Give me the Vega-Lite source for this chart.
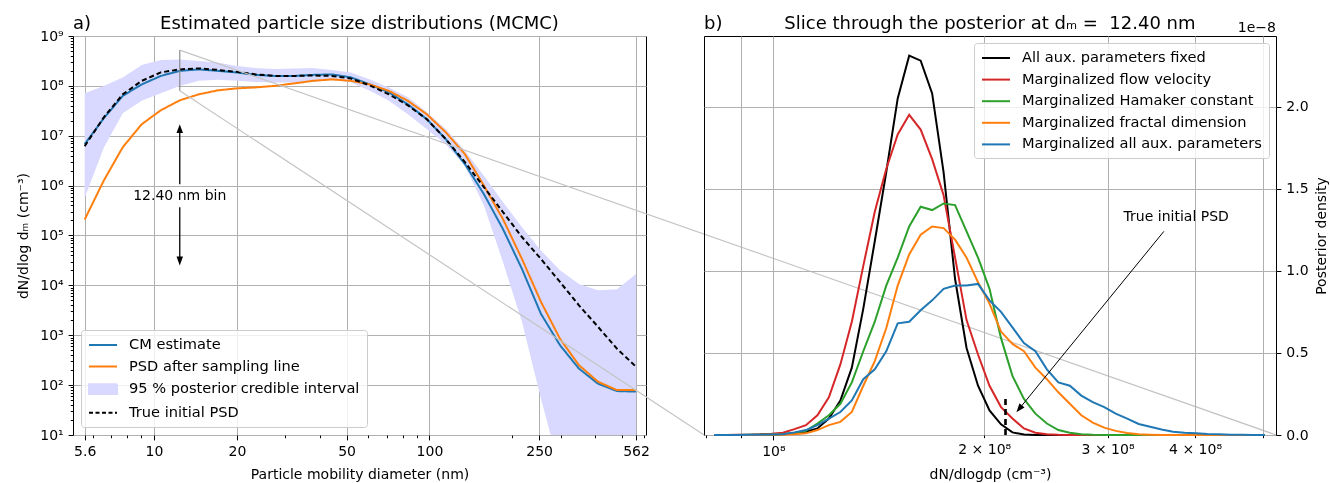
{
 "$schema": "https://vega.github.io/schema/vega-lite/v6.json",
 "background": "white",
 "padding": {"left": 16, "top": 14, "right": 0, "bottom": 0},
 "bounds": "flush",
 "spacing": 58,
 "config": {
  "font": "DejaVu Sans",
  "view": {"stroke": "#000000", "strokeWidth": 1},
  "axis": {"domain": false, "labelFontSize": 14, "titleFontSize": 14, "titleFontWeight": "normal", "labelColor": "#000000", "titleColor": "#000000", "tickColor": "#000000", "tickSize": 4.9, "labelPadding": 4.9, "gridColor": "#b0b0b0", "gridWidth": 1, "labelOverlap": false, "labelFlush": false},
  "legend": {"labelFontSize": 14.6, "labelColor": "#000000", "labelLimit": 500, "fillColor": "rgba(255,255,255,0.8)", "strokeColor": "#cccccc", "cornerRadius": 3, "padding": 7, "rowPadding": 6.6, "symbolSize": 196, "symbolStrokeWidth": 2, "symbolType": "M-2,0H2", "labelOffset": 18, "symbolOffset": 7, "offset": 8}
 },
 "datasets": {
  "psd": [
   {"d": 5.6, "cm": 6.76e6, "psd": 2.09e5, "tru": 6.17e6, "lo": 5.62e5, "hi": 7.08e7},
   {"d": 6.57, "cm": 2.24e7, "psd": 1.26e6, "tru": 2.34e7, "lo": 5.75e6, "hi": 1.0e8},
   {"d": 7.7, "cm": 6.31e7, "psd": 5.89e6, "tru": 6.76e7, "lo": 2.82e7, "hi": 1.48e8},
   {"d": 9.02, "cm": 1.07e8, "psd": 1.70e7, "tru": 1.26e8, "lo": 5.01e7, "hi": 2.63e8},
   {"d": 10.58, "cm": 1.58e8, "psd": 3.24e7, "tru": 1.86e8, "lo": 7.08e7, "hi": 3.31e8},
   {"d": 12.4, "cm": 2.0e8, "psd": 5.13e7, "tru": 2.14e8, "lo": 1.0e8, "hi": 3.39e8},
   {"d": 14.53, "cm": 2.14e8, "psd": 6.76e7, "tru": 2.24e8, "lo": 1.26e8, "hi": 3.16e8},
   {"d": 17.03, "cm": 2.0e8, "psd": 8.13e7, "tru": 2.09e8, "lo": 1.32e8, "hi": 2.95e8},
   {"d": 19.97, "cm": 1.86e8, "psd": 8.91e7, "tru": 1.91e8, "lo": 1.26e8, "hi": 2.51e8},
   {"d": 23.41, "cm": 1.66e8, "psd": 9.33e7, "tru": 1.70e8, "lo": 1.20e8, "hi": 2.29e8},
   {"d": 27.44, "cm": 1.58e8, "psd": 1.0e8, "tru": 1.58e8, "lo": 1.17e8, "hi": 2.19e8},
   {"d": 32.17, "cm": 1.58e8, "psd": 1.12e8, "tru": 1.58e8, "lo": 1.17e8, "hi": 2.24e8},
   {"d": 37.71, "cm": 1.66e8, "psd": 1.26e8, "tru": 1.62e8, "lo": 1.20e8, "hi": 2.29e8},
   {"d": 44.21, "cm": 1.70e8, "psd": 1.35e8, "tru": 1.58e8, "lo": 1.32e8, "hi": 2.09e8},
   {"d": 51.83, "cm": 1.48e8, "psd": 1.26e8, "tru": 1.41e8, "lo": 1.17e8, "hi": 1.86e8},
   {"d": 60.75, "cm": 1.07e8, "psd": 1.07e8, "tru": 1.02e8, "lo": 7.94e7, "hi": 1.35e8},
   {"d": 71.22, "cm": 7.41e7, "psd": 7.94e7, "tru": 6.76e7, "lo": 5.01e7, "hi": 9.33e7},
   {"d": 83.48, "cm": 4.27e7, "psd": 5.01e7, "tru": 4.07e7, "lo": 2.69e7, "hi": 5.89e7},
   {"d": 97.86, "cm": 2.14e7, "psd": 2.69e7, "tru": 2.14e7, "lo": 1.35e7, "hi": 2.95e7},
   {"d": 114.7, "cm": 8.51e6, "psd": 1.17e7, "tru": 8.51e6, "lo": 6.76e6, "hi": 1.35e7},
   {"d": 134.5, "cm": 2.69e6, "psd": 4.27e6, "tru": 2.95e6, "lo": 2.51e6, "hi": 5.01e6},
   {"d": 157.6, "cm": 6.76e5, "psd": 1.0e6, "tru": 9.33e5, "lo": 3.98e5, "hi": 1.58e6},
   {"d": 184.8, "cm": 1.35e5, "psd": 2.14e5, "tru": 2.95e5, "lo": 2.95e4, "hi": 4.68e5},
   {"d": 216.6, "cm": 2.14e4, "psd": 3.39e4, "tru": 9.33e4, "lo": 1.86e3, "hi": 1.48e5},
   {"d": 253.9, "cm": 2.69e3, "psd": 4.68e3, "tru": 3.39e4, "lo": 53.7, "hi": 5.01e4},
   {"d": 297.7, "cm": 631, "psd": 851, "tru": 1.17e4, "lo": 2, "hi": 2.0e4},
   {"d": 348.9, "cm": 214, "psd": 251, "tru": 3.98e3, "lo": 1.5, "hi": 1.07e4},
   {"d": 409.0, "cm": 107, "psd": 117, "tru": 1.48e3, "lo": 1.5, "hi": 7.94e3},
   {"d": 479.5, "cm": 75.9, "psd": 79.4, "tru": 537, "lo": 1.5, "hi": 8.32e3},
   {"d": 562.0, "cm": 74.1, "psd": 79.4, "tru": 234, "lo": 1.5, "hi": 1.70e4}
  ],
  "post": [
   {"x": 8.228e7, "fixed": 0, "flow": 0, "ham": 0, "frac": 0, "all": 0},
   {"x": 8.545e7, "fixed": 0, "flow": 0, "ham": 0, "frac": 0, "all": 0},
   {"x": 8.873e7, "fixed": 0, "flow": 0.001e-8, "ham": 0, "frac": 0, "all": 0},
   {"x": 9.216e7, "fixed": 0, "flow": 0.002e-8, "ham": 0.001e-8, "frac": 0, "all": 0.001e-8},
   {"x": 9.571e7, "fixed": 0.001e-8, "flow": 0.004e-8, "ham": 0.002e-8, "frac": 0, "all": 0.002e-8},
   {"x": 9.938e7, "fixed": 0.002e-8, "flow": 0.008e-8, "ham": 0.003e-8, "frac": 0.001e-8, "all": 0.003e-8},
   {"x": 1.032e8, "fixed": 0.004e-8, "flow": 0.014e-8, "ham": 0.005e-8, "frac": 0.002e-8, "all": 0.005e-8},
   {"x": 1.0717e8, "fixed": 0.01e-8, "flow": 0.036e-8, "ham": 0.014e-8, "frac": 0.004e-8, "all": 0.016e-8},
   {"x": 1.1129e8, "fixed": 0.02e-8, "flow": 0.06e-8, "ham": 0.026e-8, "frac": 0.01e-8, "all": 0.03e-8},
   {"x": 1.1557e8, "fixed": 0.04e-8, "flow": 0.12e-8, "ham": 0.07e-8, "frac": 0.03e-8, "all": 0.06e-8},
   {"x": 1.2001e8, "fixed": 0.1e-8, "flow": 0.23e-8, "ham": 0.12e-8, "frac": 0.06e-8, "all": 0.1e-8},
   {"x": 1.2463e8, "fixed": 0.21e-8, "flow": 0.43e-8, "ham": 0.19e-8, "frac": 0.08e-8, "all": 0.14e-8},
   {"x": 1.2942e8, "fixed": 0.41e-8, "flow": 0.69e-8, "ham": 0.32e-8, "frac": 0.14e-8, "all": 0.21e-8},
   {"x": 1.3439e8, "fixed": 0.77e-8, "flow": 1.03e-8, "ham": 0.51e-8, "frac": 0.30e-8, "all": 0.34e-8},
   {"x": 1.3956e8, "fixed": 1.18e-8, "flow": 1.36e-8, "ham": 0.69e-8, "frac": 0.45e-8, "all": 0.40e-8},
   {"x": 1.4492e8, "fixed": 1.60e-8, "flow": 1.62e-8, "ham": 0.91e-8, "frac": 0.65e-8, "all": 0.51e-8},
   {"x": 1.5049e8, "fixed": 2.05e-8, "flow": 1.83e-8, "ham": 1.08e-8, "frac": 0.91e-8, "all": 0.68e-8},
   {"x": 1.5628e8, "fixed": 2.31e-8, "flow": 1.95e-8, "ham": 1.27e-8, "frac": 1.10e-8, "all": 0.69e-8},
   {"x": 1.6229e8, "fixed": 2.28e-8, "flow": 1.86e-8, "ham": 1.39e-8, "frac": 1.22e-8, "all": 0.76e-8},
   {"x": 1.6853e8, "fixed": 2.08e-8, "flow": 1.68e-8, "ham": 1.37e-8, "frac": 1.27e-8, "all": 0.82e-8},
   {"x": 1.75e8, "fixed": 1.60e-8, "flow": 1.46e-8, "ham": 1.41e-8, "frac": 1.26e-8, "all": 0.89e-8},
   {"x": 1.8173e8, "fixed": 0.95e-8, "flow": 1.08e-8, "ham": 1.40e-8, "frac": 1.19e-8, "all": 0.91e-8},
   {"x": 1.8872e8, "fixed": 0.53e-8, "flow": 0.70e-8, "ham": 1.24e-8, "frac": 1.08e-8, "all": 0.91e-8},
   {"x": 1.9597e8, "fixed": 0.30e-8, "flow": 0.49e-8, "ham": 1.08e-8, "frac": 0.93e-8, "all": 0.92e-8},
   {"x": 2.0351e8, "fixed": 0.15e-8, "flow": 0.30e-8, "ham": 0.89e-8, "frac": 0.80e-8, "all": 0.82e-8},
   {"x": 2.1135e8, "fixed": 0.065e-8, "flow": 0.17e-8, "ham": 0.59e-8, "frac": 0.63e-8, "all": 0.75e-8},
   {"x": 2.1946e8, "fixed": 0.016e-8, "flow": 0.10e-8, "ham": 0.36e-8, "frac": 0.555e-8, "all": 0.655e-8},
   {"x": 2.279e8, "fixed": 0.003e-8, "flow": 0.04e-8, "ham": 0.22e-8, "frac": 0.51e-8, "all": 0.56e-8},
   {"x": 2.3666e8, "fixed": 0, "flow": 0.014e-8, "ham": 0.13e-8, "frac": 0.41e-8, "all": 0.51e-8},
   {"x": 2.4576e8, "fixed": 0, "flow": 0.004e-8, "ham": 0.07e-8, "frac": 0.34e-8, "all": 0.40e-8},
   {"x": 2.5521e8, "fixed": 0, "flow": 0.001e-8, "ham": 0.03e-8, "frac": 0.26e-8, "all": 0.32e-8},
   {"x": 2.6502e8, "fixed": 0, "flow": 0, "ham": 0.014e-8, "frac": 0.19e-8, "all": 0.30e-8},
   {"x": 2.7521e8, "fixed": 0, "flow": 0, "ham": 0.004e-8, "frac": 0.12e-8, "all": 0.24e-8},
   {"x": 2.8579e8, "fixed": 0, "flow": 0, "ham": 0.001e-8, "frac": 0.075e-8, "all": 0.20e-8},
   {"x": 2.9678e8, "fixed": 0, "flow": 0, "ham": 0, "frac": 0.045e-8, "all": 0.17e-8},
   {"x": 3.0819e8, "fixed": 0, "flow": 0, "ham": 0, "frac": 0.025e-8, "all": 0.13e-8},
   {"x": 3.2003e8, "fixed": 0, "flow": 0, "ham": 0, "frac": 0.012e-8, "all": 0.10e-8},
   {"x": 3.3235e8, "fixed": 0, "flow": 0, "ham": 0, "frac": 0.005e-8, "all": 0.067e-8},
   {"x": 3.4512e8, "fixed": 0, "flow": 0, "ham": 0, "frac": 0.002e-8, "all": 0.05e-8},
   {"x": 3.5839e8, "fixed": 0, "flow": 0, "ham": 0, "frac": 0, "all": 0.034e-8},
   {"x": 3.7217e8, "fixed": 0, "flow": 0, "ham": 0, "frac": 0, "all": 0.02e-8},
   {"x": 3.8647e8, "fixed": 0, "flow": 0, "ham": 0, "frac": 0, "all": 0.014e-8},
   {"x": 4.0134e8, "fixed": 0, "flow": 0, "ham": 0, "frac": 0, "all": 0.01e-8},
   {"x": 4.1676e8, "fixed": 0, "flow": 0, "ham": 0, "frac": 0, "all": 0.006e-8},
   {"x": 4.3279e8, "fixed": 0, "flow": 0, "ham": 0, "frac": 0, "all": 0.004e-8},
   {"x": 4.4943e8, "fixed": 0, "flow": 0, "ham": 0, "frac": 0, "all": 0.002e-8},
   {"x": 4.667e8, "fixed": 0, "flow": 0, "ham": 0, "frac": 0, "all": 0.001e-8},
   {"x": 4.8465e8, "fixed": 0, "flow": 0, "ham": 0, "frac": 0, "all": 0},
   {"x": 5.0329e8, "fixed": 0, "flow": 0, "ham": 0, "frac": 0, "all": 0}
  ]
 },
 "resolve": {"scale": {"color": "independent"}, "legend": {"color": "independent"}},
 "hconcat": [
  {
   "width": 573,
   "height": 399,
   "layer": [
    {
     "data": {"name": "psd"},
     "mark": {"type": "area", "clip": true, "fillOpacity": 1, "blend": "multiply"},
     "encoding": {
      "x": {"field": "d", "type": "quantitative", "title": "Particle mobility diameter (nm)",
       "scale": {"type": "log", "domain": [5.08, 611], "nice": false},
       "axis": {"values": [5.6, 6, 7, 8, 9, 10, 20, 30, 40, 50, 60, 70, 80, 90, 100, 200, 250, 300, 400, 500, 562, 600],
        "labelExpr": "indexof([5.6, 10, 20, 50, 100, 250, 562], datum.value) >= 0 ? '' + datum.value : ''",
        "titlePadding": 9,
        "tickSize": {"condition": {"test": "indexof([5.6, 10, 20, 50, 100, 250, 562], datum.value) >= 0", "value": 4.9}, "value": 2.7},
        "gridOpacity": {"condition": {"test": "indexof([5.6, 10, 20, 50, 100, 250, 562], datum.value) >= 0", "value": 1}, "value": 0}}},
      "y": {"field": "lo", "type": "quantitative", "title": "dN/dlog dₘ (cm⁻³)",
       "scale": {"type": "log", "domain": [10, 1e9], "nice": false},
       "axis": {"values": [10, 20, 30, 40, 50, 60, 70, 80, 90, 100, 200, 300, 400, 500, 600, 700, 800, 900, 1000, 2000, 3000, 4000, 5000, 6000, 7000, 8000, 9000, 1e4, 2e4, 3e4, 4e4, 5e4, 6e4, 7e4, 8e4, 9e4, 1e5, 2e5, 3e5, 4e5, 5e5, 6e5, 7e5, 8e5, 9e5, 1e6, 2e6, 3e6, 4e6, 5e6, 6e6, 7e6, 8e6, 9e6, 1e7, 2e7, 3e7, 4e7, 5e7, 6e7, 7e7, 8e7, 9e7, 1e8, 2e8, 3e8, 4e8, 5e8, 6e8, 7e8, 8e8, 9e8, 1e9],
        "labelExpr": "abs(log(datum.value)/LN10 - round(log(datum.value)/LN10)) < 0.01 ? '10' + ['⁰','¹','²','³','⁴','⁵','⁶','⁷','⁸','⁹'][round(log(datum.value)/LN10)] : ''",
        "titlePadding": 9,
        "tickSize": {"condition": {"test": "abs(log(datum.value)/LN10 - round(log(datum.value)/LN10)) < 0.01", "value": 4.9}, "value": 2.7},
        "gridOpacity": {"condition": {"test": "abs(log(datum.value)/LN10 - round(log(datum.value)/LN10)) < 0.01", "value": 1}, "value": 0}}},
      "y2": {"field": "hi"},
      "color": {"datum": "band", "type": "nominal",
       "scale": {"domain": ["cm", "psd", "band", "tru"], "range": ["#1f77b4", "#ff7f0e", "#d9d9ff", "#000000"]},
       "legend": {"title": null, "orient": "bottom-left",
        "labelExpr": "{'cm': 'CM estimate', 'psd': 'PSD after sampling line', 'band': '95 % posterior credible interval', 'tru': 'True initial PSD'}[datum.value]",
        "symbolOpacity": 1,
        "encode": {"symbols": {"update": {
         "shape": {"signal": "datum.value === 'band' ? 'M-2,-0.7H2V0.7H-2Z' : 'M-2,0H2'"},
         "fill": {"signal": "datum.value === 'band' ? '#d9d9ff' : 'transparent'"},
         "fillOpacity": {"value": 1},
         "opacity": {"value": 1},
         "strokeOpacity": {"value": 1},
         "strokeWidth": {"value": 2},
         "stroke": {"signal": "datum.value === 'cm' ? '#1f77b4' : datum.value === 'psd' ? '#ff7f0e' : datum.value === 'tru' ? '#000000' : 'transparent'"},
         "strokeDash": {"signal": "datum.value === 'tru' ? [4, 2.5] : [1, 0]"}}}}}}
     }
    },
    {
     "data": {"name": "psd"},
     "transform": [{"fold": ["cm", "psd", "tru"], "as": ["series", "N"]}],
     "mark": {"type": "line", "strokeWidth": 2, "clip": true},
     "encoding": {
      "x": {"field": "d", "type": "quantitative", "title": "Particle mobility diameter (nm)"},
      "y": {"field": "N", "type": "quantitative", "title": "dN/dlog dₘ (cm⁻³)"},
      "color": {"field": "series", "type": "nominal",
       "legend": {"title": null, "orient": "bottom-left",
        "labelExpr": "{'cm': 'CM estimate', 'psd': 'PSD after sampling line', 'band': '95 % posterior credible interval', 'tru': 'True initial PSD'}[datum.value]",
        "symbolOpacity": 1,
        "encode": {"symbols": {"update": {
         "shape": {"signal": "datum.value === 'band' ? 'M-2,-0.7H2V0.7H-2Z' : 'M-2,0H2'"},
         "fill": {"signal": "datum.value === 'band' ? '#d9d9ff' : 'transparent'"},
         "fillOpacity": {"value": 1},
         "opacity": {"value": 1},
         "strokeOpacity": {"value": 1},
         "strokeWidth": {"value": 2},
         "stroke": {"signal": "datum.value === 'cm' ? '#1f77b4' : datum.value === 'psd' ? '#ff7f0e' : datum.value === 'tru' ? '#000000' : 'transparent'"},
         "strokeDash": {"signal": "datum.value === 'tru' ? [4, 2.5] : [1, 0]"}}}}}},
      "strokeDash": {"condition": {"test": "datum.series === 'tru'", "value": [5, 3]}, "value": [1, 0]}
     }
    },
    {
     "data": {"values": [{"d": 12.4, "lo": 7.96e7, "hi": 5.22e8}]},
     "mark": {"type": "rule", "color": "#8c8c8c", "strokeWidth": 1.2},
     "encoding": {
      "x": {"field": "d", "type": "quantitative", "title": "Particle mobility diameter (nm)"},
      "y": {"field": "lo", "type": "quantitative", "title": "dN/dlog dₘ (cm⁻³)"},
      "y2": {"field": "hi"}
     }
    },
    {
     "data": {"values": [{"xa": 12.4, "ya": 5.22e8, "xb": 1.186e5, "yb": 10}, {"xa": 12.4, "ya": 7.96e7, "xb": 993, "yb": 10}]},
     "mark": {"type": "rule", "color": "#c4c4c4", "strokeWidth": 1.2},
     "encoding": {
      "x": {"field": "xa", "type": "quantitative", "title": "Particle mobility diameter (nm)"},
      "y": {"field": "ya", "type": "quantitative", "title": "dN/dlog dₘ (cm⁻³)"},
      "x2": {"field": "xb"},
      "y2": {"field": "yb"}
     }
    },
    {
     "data": {"values": [{"d": 12.4, "a": 1.07e6, "b": 1.32e7}, {"d": 12.4, "a": 3.7e5, "b": 3.25e4}]},
     "mark": {"type": "rule", "color": "#000000", "strokeWidth": 1.3},
     "encoding": {
      "x": {"field": "d", "type": "quantitative", "title": "Particle mobility diameter (nm)"},
      "y": {"field": "a", "type": "quantitative", "title": "dN/dlog dₘ (cm⁻³)"},
      "y2": {"field": "b"}
     }
    },
    {
     "data": {"values": [{"d": 12.4, "y": 1.32e7}]},
     "mark": {"type": "point", "filled": true, "color": "#000000", "opacity": 1, "size": 125, "shape": "M0,-1L0.58,0.6L-0.58,0.6Z"},
     "encoding": {
      "x": {"field": "d", "type": "quantitative", "title": "Particle mobility diameter (nm)"},
      "y": {"field": "y", "type": "quantitative", "title": "dN/dlog dₘ (cm⁻³)"}
     }
    },
    {
     "data": {"values": [{"d": 12.4, "y": 3.25e4}]},
     "mark": {"type": "point", "filled": true, "color": "#000000", "opacity": 1, "size": 125, "angle": 180, "shape": "M0,-1L0.58,0.6L-0.58,0.6Z"},
     "encoding": {
      "x": {"field": "d", "type": "quantitative", "title": "Particle mobility diameter (nm)"},
      "y": {"field": "y", "type": "quantitative", "title": "dN/dlog dₘ (cm⁻³)"}
     }
    },
    {
     "data": {"values": [{"d": 12.4, "y": 6.3e5, "t": "12.40 nm bin"}]},
     "mark": {"type": "text", "fontSize": 14, "color": "#000000"},
     "encoding": {
      "x": {"field": "d", "type": "quantitative", "title": "Particle mobility diameter (nm)"},
      "y": {"field": "y", "type": "quantitative", "title": "dN/dlog dₘ (cm⁻³)"},
      "text": {"field": "t"}
     }
    },
    {
     "data": {"values": [{"d": 5.08, "y": 1e9, "t": "a)"}]},
     "mark": {"type": "text", "fontSize": 18, "color": "#000000", "align": "left", "baseline": "alphabetic", "dy": -7},
     "encoding": {
      "x": {"field": "d", "type": "quantitative", "title": "Particle mobility diameter (nm)"},
      "y": {"field": "y", "type": "quantitative", "title": "dN/dlog dₘ (cm⁻³)"},
      "text": {"field": "t"}
     }
    },
    {
     "data": {"values": [{"d": 55.7, "y": 1e9, "t": "Estimated particle size distributions (MCMC)"}]},
     "mark": {"type": "text", "fontSize": 18, "color": "#000000", "align": "center", "baseline": "alphabetic", "dy": -7},
     "encoding": {
      "x": {"field": "d", "type": "quantitative", "title": "Particle mobility diameter (nm)"},
      "y": {"field": "y", "type": "quantitative", "title": "dN/dlog dₘ (cm⁻³)"},
      "text": {"field": "t"}
     }
    }
   ]
  },
  {
   "width": 572,
   "height": 399,
   "layer": [
    {
     "data": {"name": "post"},
     "transform": [{"fold": ["fixed", "flow", "ham", "frac", "all"], "as": ["series", "density"]}],
     "mark": {"type": "line", "strokeWidth": 2},
     "encoding": {
      "x": {"field": "x", "type": "quantitative", "title": "dN/dlogdp (cm⁻³)",
       "scale": {"type": "log", "domain": [7.96e7, 5.22e8], "nice": false},
       "axis": {"values": [8e7, 9e7, 1e8, 2e8, 3e8, 4e8, 5e8],
        "labelExpr": "datum.value == 1e8 ? '10⁸' : datum.value == 2e8 ? '2 × 10⁸' : datum.value == 3e8 ? '3 × 10⁸' : datum.value == 4e8 ? '4 × 10⁸' : ''",
        "titlePadding": 9,
        "tickSize": {"condition": {"test": "datum.value == 1e8", "value": 4.9}, "value": 2.7},
        "gridOpacity": {"condition": {"test": "datum.value < 8.5e7", "value": 0}, "value": 1}}},
      "y": {"field": "density", "type": "quantitative", "title": "Posterior density",
       "scale": {"domain": [0, 2.43e-8], "nice": false, "zero": false},
       "axis": {"orient": "right", "values": [0, 0.5e-8, 1e-8, 1.5e-8, 2e-8],
        "labelExpr": "format(datum.value * 1e8, '.1f')", "titleAngle": 270, "titleBaseline": "top", "titlePadding": 6}},
      "color": {"field": "series", "type": "nominal",
       "scale": {"domain": ["fixed", "flow", "ham", "frac", "all"], "range": ["#000000", "#d62728", "#2ca02c", "#ff7f0e", "#1f77b4"]},
       "legend": {"title": null, "orient": "top-right", "offset": 7,
        "labelExpr": "{'fixed': 'All aux. parameters fixed', 'flow': 'Marginalized flow velocity', 'ham': 'Marginalized Hamaker constant', 'frac': 'Marginalized fractal dimension', 'all': 'Marginalized all aux. parameters'}[datum.value]"}}
     }
    },
    {
     "data": {"values": [{"x": 2.145e8, "y": 0, "y2": 0.243e-8}]},
     "mark": {"type": "rule", "color": "#000000", "strokeWidth": 2.6, "strokeDash": [6, 4]},
     "encoding": {
      "x": {"field": "x", "type": "quantitative", "title": "dN/dlogdp (cm⁻³)"},
      "y": {"field": "y", "type": "quantitative", "title": "Posterior density"},
      "y2": {"field": "y2"}
     }
    },
    {
     "data": {"values": [{"xa": 3.61e8, "ya": 1.24e-8, "xb": 2.249e8, "yb": 0.1646e-8}]},
     "mark": {"type": "rule", "color": "#000000", "strokeWidth": 1},
     "encoding": {
      "x": {"field": "xa", "type": "quantitative", "title": "dN/dlogdp (cm⁻³)"},
      "y": {"field": "ya", "type": "quantitative", "title": "Posterior density"},
      "x2": {"field": "xb"},
      "y2": {"field": "yb"}
     }
    },
    {
     "data": {"values": [{"x": 2.249e8, "y": 0.1646e-8}]},
     "mark": {"type": "point", "filled": true, "color": "#000000", "opacity": 1, "size": 125, "angle": 219, "shape": "M0,-1L0.58,0.6L-0.58,0.6Z"},
     "encoding": {
      "x": {"field": "x", "type": "quantitative", "title": "dN/dlogdp (cm⁻³)"},
      "y": {"field": "y", "type": "quantitative", "title": "Posterior density"}
     }
    },
    {
     "data": {"values": [{"x": 3.76e8, "y": 1.327e-8, "t": "True initial PSD"}]},
     "mark": {"type": "text", "fontSize": 14, "color": "#000000"},
     "encoding": {
      "x": {"field": "x", "type": "quantitative", "title": "dN/dlogdp (cm⁻³)"},
      "y": {"field": "y", "type": "quantitative", "title": "Posterior density"},
      "text": {"field": "t"}
     }
    },
    {
     "data": {"values": [{"x": 7.96e7, "y": 2.43e-8, "t": "b)"}]},
     "mark": {"type": "text", "fontSize": 18, "color": "#000000", "align": "left", "baseline": "alphabetic", "dy": -7},
     "encoding": {
      "x": {"field": "x", "type": "quantitative", "title": "dN/dlogdp (cm⁻³)"},
      "y": {"field": "y", "type": "quantitative", "title": "Posterior density"},
      "text": {"field": "t"}
     }
    },
    {
     "data": {"values": [{"x": 2.038e8, "y": 2.43e-8, "t": "Slice through the posterior at dₘ =\u00a0 12.40 nm"}]},
     "mark": {"type": "text", "fontSize": 18, "color": "#000000", "align": "center", "baseline": "alphabetic", "dy": -7},
     "encoding": {
      "x": {"field": "x", "type": "quantitative", "title": "dN/dlogdp (cm⁻³)"},
      "y": {"field": "y", "type": "quantitative", "title": "Posterior density"},
      "text": {"field": "t"}
     }
    },
    {
     "data": {"values": [{"x": 5.22e8, "y": 2.43e-8, "t": "1e−8"}]},
     "mark": {"type": "text", "fontSize": 14, "color": "#000000", "align": "right", "baseline": "alphabetic", "dy": -4},
     "encoding": {
      "x": {"field": "x", "type": "quantitative", "title": "dN/dlogdp (cm⁻³)"},
      "y": {"field": "y", "type": "quantitative", "title": "Posterior density"},
      "text": {"field": "t"}
     }
    }
   ]
  }
 ]
}
